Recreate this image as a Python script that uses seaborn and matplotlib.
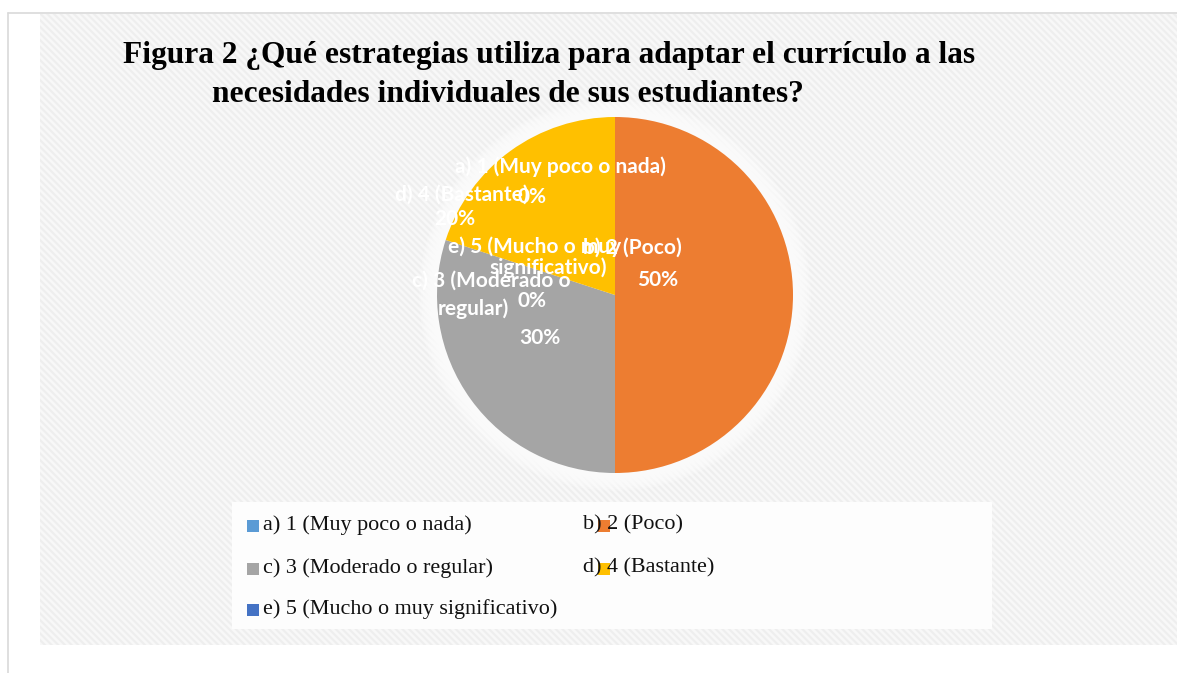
import matplotlib
matplotlib.use("Agg")
import matplotlib.pyplot as plt
from matplotlib.patches import Rectangle, Circle
import seaborn as sns

# ---- data ----
categories = ["a) 1 (Muy poco o nada)", "b) 2 (Poco)", "c) 3 (Moderado o regular)",
              "d) 4 (Bastante)", "e) 5 (Mucho o muy significativo)"]
values = [0, 50, 30, 20, 0]
colors = ["#5B9BD5", "#ED7D31", "#A5A5A5", "#FFC000", "#4472C4"]
title_lines = ["Figura 2 ¿Qué estrategias utiliza para adaptar el currículo a las",
               "necesidades individuales de sus estudiantes?"]

sns.set_theme(style="white")
plt.rcParams['font.family'] = ['DejaVu Sans']

W, H = 1177, 673
fig = plt.figure(figsize=(W / 100, H / 100), dpi=100)
fig.patch.set_facecolor("white")

def fx(px):
    return px / W

def fy(py):
    return 1 - py / H

# background: frame + hatched chart area
bg = fig.add_axes([0, 0, 1, 1])
bg.set_xlim(0, W)
bg.set_ylim(H, 0)
bg.axis("off")
plt.rcParams['hatch.linewidth'] = 1.5
bg.add_patch(Rectangle((40, 14), W - 40, 631, facecolor="#F8F8F8", edgecolor="#EEEEEE",
                       hatch="\\\\\\\\\\", linewidth=0, zorder=0))
bg.plot([8, 8], [13, H], color="#D9D9D9", lw=1.2, zorder=1)
bg.plot([8, W], [13, 13], color="#D9D9D9", lw=1.2, zorder=1)
# legend box
bg.add_patch(Rectangle((232, 502), 760, 127, facecolor="#FDFDFD", edgecolor="none", zorder=2))

# pie
cx, cy, r = 615, 295, 178
ax = fig.add_axes([fx(cx - r), fy(cy + r), 2 * r / W, 2 * r / H])
ax.set_xlim(-1, 1)
ax.set_ylim(-1, 1)
ax.axis("off")
for k in range(10):
    rr = 1.0 + 0.01 * (10 - k)
    ax.add_patch(Circle((0, 0), rr, facecolor="white", alpha=0.2, edgecolor="none",
                        clip_on=False, zorder=0))
wedges, _ = ax.pie(values, colors=colors, startangle=90, counterclock=False,
                   radius=1, wedgeprops=dict(linewidth=0), center=(0, 0), frame=False)
for w in wedges:
    w.set_zorder(2)
ax.set_xlim(-1, 1)
ax.set_ylim(-1, 1)

# data labels (white, bold) - Excel style overlapping
label_font = dict(color="white", fontweight="bold", family=["Lato", "DejaVu Sans"], fontsize=15,
                  ha="center", va="center")
label_lines = [
    ("a) 1 (Muy poco o nada)", 560, 167),
    ("0%", 532, 197),
    ("d) 4 (Bastante)", 462, 195),
    ("20%", 455, 219),
    ("e) 5 (Mucho o muy", 535, 247),
    ("significativo)", 548, 268),
    ("0%", 532, 301),
    ("b) 2 (Poco)", 632, 248),
    ("50%", 658, 280),
    ("c) 3 (Moderado o", 491, 281),
    ("regular)", 473, 309),
    ("30%", 540, 338),
]
for txt, px, py in label_lines:
    fig.text(fx(px), fy(py), txt, **label_font)

# title
tfont = dict(family=["Liberation Serif", "DejaVu Serif"], fontweight="bold", fontsize=22.6,
             color="black", va="baseline", ha="left")
fig.text(fx(123), fy(63), title_lines[0], **tfont)
fig.text(fx(212), fy(102), title_lines[1], **tfont)

# legend
lfont = dict(family=["Liberation Serif", "DejaVu Serif"], fontsize=15.9, color="#111111",
             va="center", ha="left")
leg_pos = [  # (text x, marker x, y)
    (263, 247, 525),
    (583, 598, 525),
    (263, 247, 568),
    (583, 598, 568),
    (263, 247, 609),
]
for cat, col, (tx, mx, yy) in zip(categories, colors, leg_pos):
    fig.text(fx(tx), fy(yy), cat, **lfont)
    bg.add_patch(Rectangle((mx, yy - 5), 12, 12, facecolor=col, edgecolor="none", zorder=5))

fig.savefig("out.png", dpi=100)
